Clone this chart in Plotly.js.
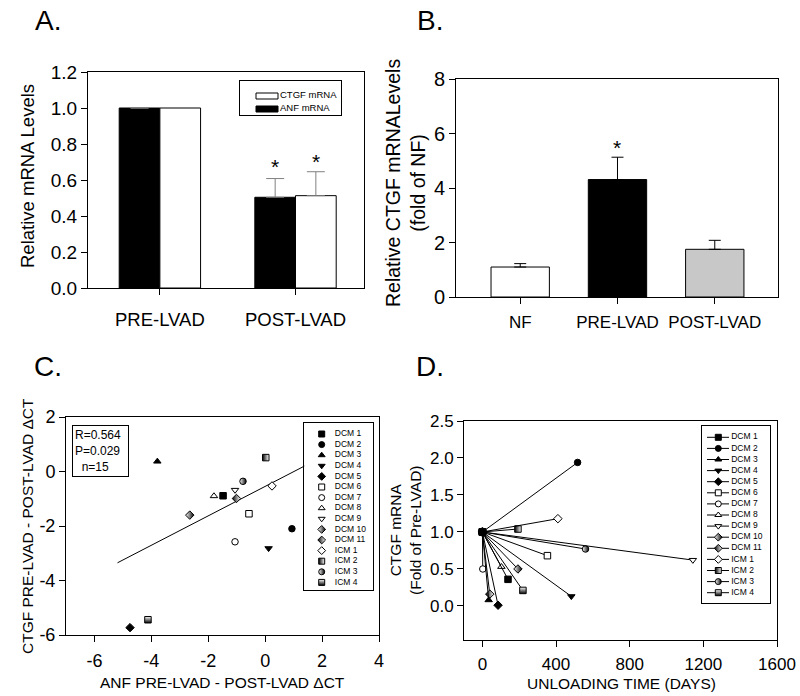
<!DOCTYPE html>
<html>
<head>
<meta charset="utf-8">
<script src="https://cdn.plot.ly/plotly-3.0.1.min.js"></script>
<style>
  body { margin: 0; background: #fff; }
  #chart { width: 800px; height: 696px; }
</style>
</head>
<body>
<div id="chart"></div>
<script>
// ---- A. relative mRNA levels ----
const groupsA = ['PRE-LVAD', 'POST-LVAD'];
const anfA = [1.0, 0.504];
const anfErrA = [0, 0.104];
const ctgfA = [1.0, 0.513];
const ctgfErrA = [0, 0.133];
const legendA = ['CTGF mRNA', 'ANF mRNA'];

// ---- B. CTGF fold of NF ----
const groupsB = ['NF', 'PRE-LVAD', 'POST-LVAD'];
const ctgfB = [1.10, 4.31, 1.75];
const ctgfErrB = [0.125, 0.82, 0.33];

// ---- C / D. per patient ----
const patients = ['DCM 1', 'DCM 2', 'DCM 3', 'DCM 4', 'DCM 5', 'DCM 6', 'DCM 7', 'DCM 8',
  'DCM 9', 'DCM 10', 'DCM 11', 'ICM 1', 'ICM 2', 'ICM 3', 'ICM 4'];
const anfDelta = [-1.48, 0.94, -3.79, 0.12, -4.75, -0.57, -1.06, -1.80,
  -1.06, -2.65, -1.01, 0.24, 0.02, -0.78, -4.12];
const ctgfDelta = [-0.89, -2.10, 0.37, -2.82, -5.73, -1.55, -2.58, -0.90,
  -0.68, -1.60, -0.99, -0.53, 0.51, -0.36, -5.44];
const fitX = [-5.19, 1.40];
const fitY = [-3.35, 0.21];
const statsLines = ['R=0.564', 'P=0.029', '\u00a0\u00a0n=15'];

const baselineDay = 0;
const baselineFold = 1;
const unloadDays = [139, 517, 34, 483, 85, 353, 2, 103, 1143, 193, 40, 410, 193, 560, 220];
const ctgfFold = [0.36, 1.94, 0.08, 0.13, 0.01, 0.68, 0.50, 0.53, 0.62, 0.50, 0.16, 1.18, 1.04, 0.77, 0.21];

// tick labels
const ticksAy = [0, 0.2, 0.4, 0.6, 0.8, 1.0, 1.2];
const ticksBy = [0, 2, 4, 6, 8];
const ticksCx = [-6, -4, -2, 0, 2, 4];
const tickTextCx = ['-6', '-4', '-2', '0', '2', '4'];
const ticksCy = [-6, -4, -2, 0, 2];
const tickTextCy = ['-6', '-4', '-2', '0', '2'];
const ticksDx = [0, 400, 800, 1200, 1600];
const ticksDy = [0, 0.5, 1.0, 1.5, 2.0, 2.5];

// marker look per patient (styles)
const patientMarkers = [
  {symbol: 'square', fill: '#000'},
  {symbol: 'circle', fill: '#000'},
  {symbol: 'triangle-up', fill: '#000'},
  {symbol: 'triangle-down', fill: '#000'},
  {symbol: 'diamond', fill: '#000'},
  {symbol: 'square', fill: '#fff'},
  {symbol: 'circle', fill: '#fff'},
  {symbol: 'triangle-up', fill: '#fff'},
  {symbol: 'triangle-down', fill: '#fff'},
  {symbol: 'diamond', fill: '#fff', grad: 'horizontal', gradColor: '#000'},
  {symbol: 'diamond', fill: '#000', grad: 'horizontal', gradColor: '#fff'},
  {symbol: 'diamond', fill: '#fff'},
  {symbol: 'square', fill: '#000', grad: 'horizontal', gradColor: '#fff'},
  {symbol: 'circle', fill: '#fff', grad: 'horizontal', gradColor: '#000'},
  {symbol: 'square', fill: '#fff', grad: 'vertical', gradColor: '#000'}
];

const W = 800, H = 696;
const px = (x) => x / W;
const py = (y) => 1 - y / H;
const FONT = 'Arial, "Liberation Sans", sans-serif';

function markerOf(i, size) {
  const s = patientMarkers[i];
  const m = {symbol: s.symbol, color: s.fill, size: size, line: {color: '#000', width: 1}};
  if (s.grad) m.gradient = {type: s.grad, color: s.gradColor};
  return m;
}

const traces = [];

// A bars
traces.push({
  type: 'bar', x: groupsA, y: anfA, xaxis: 'x', yaxis: 'y',
  marker: {color: '#000', line: {color: '#000', width: 1}},
  error_y: {type: 'data', symmetric: false, array: anfErrA, arrayminus: [0, 0], color: '#808080', thickness: 1, width: 9}
});
traces.push({
  type: 'bar', x: groupsA, y: ctgfA, xaxis: 'x', yaxis: 'y',
  marker: {color: '#fff', line: {color: '#000', width: 1}},
  error_y: {type: 'data', symmetric: false, array: ctgfErrA, arrayminus: [0, 0], color: '#808080', thickness: 1, width: 9}
});

// B bars
traces.push({
  type: 'bar', x: groupsB, y: ctgfB, xaxis: 'x2', yaxis: 'y2',
  marker: {color: ['#fff', '#000', '#c8c8c8'], line: {color: '#000', width: 1}},
  error_y: {type: 'data', symmetric: false, array: ctgfErrB, arrayminus: [0, 0, 0], color: '#000', thickness: 1, width: 6}
});

// C regression + points
traces.push({
  type: 'scatter', mode: 'lines', x: fitX, y: fitY, xaxis: 'x3', yaxis: 'y3',
  line: {color: '#000', width: 1}
});
patients.forEach((name, i) => {
  traces.push({
    type: 'scatter', mode: 'markers', name: name, x: [anfDelta[i]], y: [ctgfDelta[i]],
    xaxis: 'x3', yaxis: 'y3', marker: markerOf(i, 6.5)
  });
});

// D lines from baseline, drawn last-to-first so DCM 1 sits on top
for (let i = patients.length - 1; i >= 0; i--) {
  traces.push({
    type: 'scatter', mode: 'lines+markers', name: patients[i],
    x: [baselineDay, unloadDays[i]], y: [baselineFold, ctgfFold[i]],
    xaxis: 'x4', yaxis: 'y4', line: {color: '#000', width: 1}, marker: markerOf(i, 6.5)
  });
}

// legend C (hidden axes x5/y5)
const itemsC = patients.map((_, i) => 11.3 + 10.6 * i);
patients.forEach((name, i) => {
  traces.push({
    type: 'scatter', mode: 'markers', x: [17.4], y: [itemsC[i]], xaxis: 'x5', yaxis: 'y5',
    marker: markerOf(i, 6)
  });
});
traces.push({
  type: 'scatter', mode: 'text', x: patients.map(() => 30.5), y: itemsC, text: patients,
  textposition: 'middle right', textfont: {family: FONT, size: 8.5, color: '#000'}, xaxis: 'x5', yaxis: 'y5'
});

// legend D (hidden axes x6/y6)
const itemsD = patients.map((_, i) => 11.3 + 11.1 * i);
const segX = [], segY = [];
itemsD.forEach((y) => { segX.push(5.3, 27.3, null); segY.push(y, y, null); });
traces.push({
  type: 'scatter', mode: 'lines', x: segX, y: segY, xaxis: 'x6', yaxis: 'y6',
  line: {color: '#000', width: 1}
});
patients.forEach((name, i) => {
  traces.push({
    type: 'scatter', mode: 'markers', x: [16.6], y: [itemsD[i]], xaxis: 'x6', yaxis: 'y6',
    marker: markerOf(i, 6)
  });
});
traces.push({
  type: 'scatter', mode: 'text', x: patients.map(() => 29.5), y: itemsD, text: patients,
  textposition: 'middle right', textfont: {family: FONT, size: 8.5, color: '#000'}, xaxis: 'x6', yaxis: 'y6'
});

// legend A (hidden axes x7/y7)
const itemsA = [15, 28];
traces.push({
  type: 'bar', orientation: 'h', x: [22, 22], base: [16, 16], y: itemsA, width: [6, 6],
  xaxis: 'x7', yaxis: 'y7', marker: {color: ['#fff', '#000'], line: {color: '#000', width: 1}}
});
traces.push({
  type: 'scatter', mode: 'text', x: [40, 40], y: itemsA, text: legendA,
  textposition: 'middle right', textfont: {family: FONT, size: 9.5, color: '#000'}, xaxis: 'x7', yaxis: 'y7'
});

traces.forEach((t) => { t.showlegend = false; t.hoverinfo = 'skip'; t.cliponaxis = false; });

const axisBase = {
  showline: true, mirror: true, linecolor: '#000', linewidth: 1,
  ticks: 'outside', ticklen: 6, tickwidth: 1, tickcolor: '#000',
  showgrid: false, zeroline: false, fixedrange: true,
  tickfont: {family: FONT, size: 17, color: '#000'}
};
const boxAxis = {
  showline: true, mirror: true, linecolor: '#000', linewidth: 1,
  ticks: '', showticklabels: false, showgrid: false, zeroline: false, fixedrange: true
};

function paperText(a) {
  return {xref: 'paper', yref: 'paper', xanchor: 'center', yanchor: 'middle', showarrow: false, ...a};
}

const layout = {
  width: W, height: H,
  margin: {l: 0, r: 0, t: 0, b: 0},
  paper_bgcolor: '#fff', plot_bgcolor: '#fff',
  font: {family: FONT, color: '#000'},
  showlegend: false,
  barmode: 'group', bargap: 0.4, bargroupgap: 0,
  xaxis: {...axisBase, domain: [px(88), px(364)], anchor: 'y', type: 'category',
    range: [-0.53, 1.505], ticklabelstandoff: 9, tickfont: {family: FONT, size: 18.5, color: '#000'}},
  yaxis: {...axisBase, domain: [py(288), py(72)], anchor: 'x', range: [0, 1.2],
    tickvals: ticksAy, tickformat: '.1f', tickfont: {family: FONT, size: 19, color: '#000'}},
  xaxis2: {...axisBase, domain: [px(456), px(778)], anchor: 'y2', type: 'category',
    range: [-0.66, 2.65], ticklabelstandoff: 4, tickfont: {family: FONT, size: 17, color: '#000'}},
  yaxis2: {...axisBase, domain: [py(297), py(79)], anchor: 'x2', range: [0, 8],
    tickvals: ticksBy, tickfont: {family: FONT, size: 20, color: '#000'}},
  xaxis3: {...axisBase, domain: [px(66), px(379)], anchor: 'y3', range: [-7, 4],
    tickvals: ticksCx, ticktext: tickTextCx, ticklabelstandoff: 3, tickfont: {family: FONT, size: 18, color: '#000'}},
  yaxis3: {...axisBase, domain: [py(635), py(417)], anchor: 'x3', range: [-6, 2],
    tickvals: ticksCy, ticktext: tickTextCy, tickfont: {family: FONT, size: 18, color: '#000'}},
  xaxis4: {...axisBase, domain: [px(464), px(777)], anchor: 'y4', range: [-100, 1600],
    tickvals: ticksDx, ticklabelstandoff: 3, tickfont: {family: FONT, size: 17, color: '#000'}},
  yaxis4: {...axisBase, domain: [py(640), py(421)], anchor: 'x4', range: [-0.46, 2.5],
    tickvals: ticksDy, tickformat: '.1f', tickfont: {family: FONT, size: 17, color: '#000'}},
  xaxis5: {...boxAxis, domain: [px(304.3), px(373.3)], anchor: 'y5', range: [0, 69]},
  yaxis5: {...boxAxis, domain: [py(590), py(422.7)], anchor: 'x5', range: [167.3, 0]},
  xaxis6: {...boxAxis, domain: [px(701.7), px(770)], anchor: 'y6', range: [0, 68.3]},
  yaxis6: {...boxAxis, domain: [py(603.3), py(426)], anchor: 'x6', range: [177.3, 0]},
  xaxis7: {...boxAxis, domain: [px(240), px(341)], anchor: 'y7', range: [0, 101]},
  yaxis7: {...boxAxis, domain: [py(115), py(81)], anchor: 'x7', range: [34, 0]},
  annotations: [
    paperText({text: 'A.', x: px(48), y: py(21), font: {size: 28}}),
    paperText({text: 'B.', x: px(430), y: py(21), font: {size: 28}}),
    paperText({text: 'C.', x: px(48), y: py(367), font: {size: 28}}),
    paperText({text: 'D.', x: px(430), y: py(367), font: {size: 28}}),
    paperText({text: 'Relative mRNA Levels', x: px(27), y: py(176), textangle: -90, font: {size: 18.5}}),
    paperText({text: 'Relative CTGF mRNALevels<br>(fold of NF)', x: px(405), y: py(183), textangle: -90, font: {size: 19.5}}),
    paperText({text: 'CTGF PRE-LVAD - POST-LVAD \u0394CT', x: px(27), y: py(526), textangle: -90, font: {size: 15.5}}),
    paperText({text: 'ANF PRE-LVAD - POST-LVAD \u0394CT', x: px(222), y: py(682), font: {size: 15.5}}),
    paperText({text: 'CTGF mRNA<br>(Fold of Pre-LVAD)', x: px(405), y: py(530), textangle: -90, font: {size: 15.5}}),
    paperText({text: 'UNLOADING TIME (DAYS)', x: px(621), y: py(683), font: {size: 15.5}}),
    {text: '*', xref: 'x', yref: 'y', x: 0.85, y: anfA[1] + anfErrA[1], xanchor: 'center', yanchor: 'bottom', yshift: -1, showarrow: false, font: {size: 21}},
    {text: '*', xref: 'x', yref: 'y', x: 1.15, y: ctgfA[1] + ctgfErrA[1], xanchor: 'center', yanchor: 'bottom', yshift: -3, showarrow: false, font: {size: 21}},
    {text: '*', xref: 'x2', yref: 'y2', x: 1, y: ctgfB[1] + ctgfErrB[1], xanchor: 'center', yanchor: 'bottom', yshift: -4, showarrow: false, font: {size: 21}},
    paperText({text: statsLines.join('<br>'), x: px(72), y: py(425), xanchor: 'left', yanchor: 'top', align: 'left',
      width: 51, height: 46, borderpad: 2, borderwidth: 1, bordercolor: '#000', bgcolor: '#fff',
      font: {size: 12}})
  ]
};

Plotly.newPlot('chart', traces, layout, {displayModeBar: false, staticPlot: true});
</script>
</body>
</html>
